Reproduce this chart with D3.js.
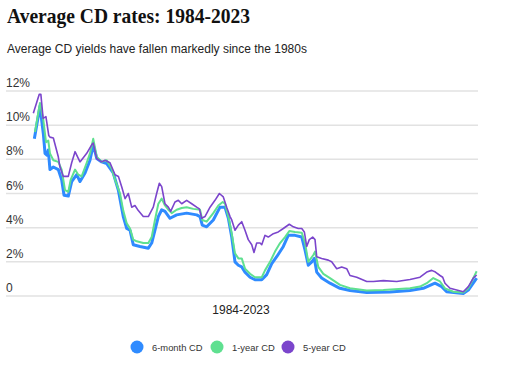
<!DOCTYPE html>
<html><head><meta charset="utf-8">
<script src="https://cdn.jsdelivr.net/npm/d3@7"></script>
<style>body{margin:0;background:#fff}svg{display:block}</style>
</head><body>
<svg id="c" width="512" height="369"></svg>
<script>
const title = "Average CD rates: 1984-2023";
const subtitle = "Average CD yields have fallen markedly since the 1980s";
const xLabel = "1984-2023";
const yTicks = [0, 2, 4, 6, 8, 10, 12];
const seriesNames = ["6-month CD", "1-year CD", "5-year CD"];
const seriesColors = ["#2f8bff", "#5fe090", "#7b45cc"];

const sixMonth = [[1984.12,9.2],[1984.62,11.1],[1984.92,9.5],[1985.07,8.35],[1985.22,8.25],[1985.36,8.55],[1985.51,7.4],[1985.81,7.55],[1986.25,7.4],[1986.55,6.8],[1986.76,5.9],[1987.14,5.85],[1987.44,6.7],[1987.89,7.1],[1988.18,6.7],[1988.63,7.2],[1989.07,7.95],[1989.36,8.85],[1989.67,8.05],[1990.11,7.85],[1990.56,7.75],[1991.14,7.2],[1991.59,6.2],[1992.03,4.65],[1992.34,3.95],[1992.63,3.85],[1992.92,3.0],[1993.52,2.9],[1994.26,2.8],[1994.56,3.1],[1994.85,3.85],[1995.15,4.65],[1995.45,5.05],[1995.74,4.95],[1996.19,4.55],[1996.78,4.75],[1997.67,4.85],[1998.56,4.75],[1998.86,4.65],[1999.06,4.15],[1999.45,4.05],[2000.04,4.45],[2000.64,5.2],[2001.08,5.2],[2001.38,4.55],[2001.68,3.45],[2001.97,2.0],[2002.27,1.8],[2002.57,1.7],[2002.86,1.4],[2003.31,1.1],[2003.75,0.95],[2004.35,0.95],[2004.79,1.25],[2005.24,1.9],[2005.68,2.3],[2006.27,2.9],[2006.71,3.55],[2007.31,3.55],[2007.91,3.45],[2008.2,2.7],[2008.49,1.8],[2008.8,2.0],[2009.03,2.2],[2009.24,1.4],[2009.68,1.05],[2010.42,0.75],[2011.31,0.45],[2012.2,0.32],[2013.69,0.2],[2015.76,0.23],[2017.54,0.32],[2018.72,0.45],[2019.76,0.75],[2020.36,0.55],[2020.8,0.25],[2022.28,0.15],[2022.73,0.35],[2023.47,1.05]];

const oneYear = [[1984.18,9.6],[1984.62,11.3],[1984.92,10.3],[1985.16,9.0],[1985.36,9.1],[1985.51,8.35],[1985.81,7.95],[1986.25,7.85],[1986.55,7.4],[1986.85,6.2],[1987.14,6.1],[1987.35,6.8],[1987.74,7.4],[1988.03,7.1],[1988.33,7.0],[1988.78,7.8],[1989.07,8.35],[1989.36,9.2],[1989.67,8.15],[1990.11,7.85],[1990.56,7.95],[1991.0,7.45],[1991.3,6.8],[1991.74,6.0],[1992.03,5.0],[1992.34,4.25],[1992.63,3.95],[1992.92,3.3],[1993.23,3.2],[1993.81,3.1],[1994.26,3.1],[1994.56,3.45],[1994.85,4.45],[1995.15,5.4],[1995.45,5.7],[1995.74,5.3],[1996.04,5.05],[1996.34,4.85],[1996.78,5.05],[1997.23,5.15],[1997.67,5.2],[1998.26,5.1],[1998.86,5.05],[1999.06,4.45],[1999.45,4.35],[2000.04,4.85],[2000.49,5.3],[2000.88,5.5],[2001.08,5.4],[2001.38,4.65],[2001.68,3.65],[2001.97,2.5],[2002.27,2.2],[2002.57,2.2],[2002.86,1.6],[2003.31,1.3],[2003.75,1.1],[2004.35,1.1],[2004.64,1.5],[2005.09,2.0],[2005.53,2.6],[2005.98,3.1],[2006.42,3.45],[2006.8,3.8],[2007.31,3.75],[2007.91,3.7],[2008.2,3.1],[2008.49,2.0],[2008.94,2.4],[2009.09,2.6],[2009.38,1.7],[2009.83,1.3],[2010.42,1.05],[2011.31,0.65],[2012.2,0.45],[2013.69,0.32],[2015.17,0.35],[2017.54,0.45],[2018.43,0.55],[2019.03,0.75],[2019.61,1.05],[2020.21,0.85],[2020.65,0.45],[2021.39,0.25],[2022.28,0.2],[2022.73,0.45],[2023.47,1.45]];

const fiveYear = [[1984.03,10.7],[1984.55,11.8],[1984.7,11.8],[1984.9,10.4],[1985.15,10.5],[1985.4,9.4],[1985.51,9.3],[1985.81,9.25],[1986.25,8.15],[1986.4,7.55],[1986.7,7.0],[1987.14,7.0],[1987.44,7.8],[1987.74,8.45],[1988.18,7.85],[1988.78,8.35],[1989.22,8.85],[1989.36,8.95],[1989.67,8.05],[1990.11,7.85],[1990.41,7.95],[1990.85,7.8],[1991.3,7.1],[1991.6,7.0],[1991.89,6.4],[1992.19,5.7],[1992.48,6.0],[1992.78,5.2],[1993.07,5.3],[1993.37,5.0],[1993.81,4.65],[1994.26,4.65],[1994.7,5.2],[1995.0,6.0],[1995.24,6.6],[1995.45,6.4],[1995.74,5.4],[1996.04,5.2],[1996.25,4.95],[1996.63,5.5],[1996.93,5.6],[1997.23,5.4],[1997.67,5.6],[1998.12,5.4],[1998.56,5.2],[1998.8,5.1],[1999.01,4.55],[1999.3,4.65],[1999.75,5.2],[2000.19,5.6],[2000.58,6.0],[2000.93,5.8],[2001.23,5.2],[2001.53,4.65],[2001.68,4.45],[2001.97,3.85],[2002.27,4.15],[2002.57,4.35],[2002.86,3.85],[2003.15,3.3],[2003.46,3.0],[2003.66,2.55],[2003.9,3.1],[2004.2,3.1],[2004.35,3.0],[2004.64,3.55],[2004.93,3.45],[2005.38,3.65],[2005.82,3.75],[2006.27,3.95],[2006.8,4.2],[2007.16,4.05],[2007.6,3.95],[2007.91,3.95],[2008.14,3.75],[2008.35,2.9],[2008.58,3.3],[2008.88,3.45],[2009.09,3.3],[2009.24,2.3],[2009.68,2.2],[2010.27,2.1],[2010.57,2.0],[2011.02,1.6],[2011.46,1.7],[2011.91,1.6],[2012.2,1.2],[2012.8,1.1],[2013.69,0.85],[2014.28,0.85],[2015.17,0.9],[2016.36,0.85],[2017.54,0.97],[2018.43,1.1],[2019.03,1.4],[2019.47,1.5],[2019.8,1.4],[2020.21,1.2],[2020.45,1.1],[2020.65,0.75],[2021.1,0.45],[2021.69,0.35],[2022.28,0.25],[2022.73,0.55],[2023.17,1.05],[2023.47,1.23]];

const svg = d3.select("#c");
const x = d3.scaleLinear().domain([1984, 2023.5]).range([33, 477]);
const y = d3.scaleLinear().domain([0, 12]).range([296, 91]);

// title
svg.append("text").attr("x", 7).attr("y", 23)
  .attr("font-family", "'Liberation Serif', serif").attr("font-weight", "bold")
  .attr("font-size", 21).attr("fill", "#111")
  .attr("textLength", 243).attr("lengthAdjust", "spacingAndGlyphs")
  .text(title);

svg.append("text").attr("x", 7).attr("y", 53)
  .attr("font-family", "'Liberation Sans', Arial, sans-serif")
  .attr("font-size", 12).attr("fill", "#222").text(subtitle);

// grid
const grid = svg.append("g");
grid.selectAll("line").data(yTicks).join("line")
  .attr("x1", 6).attr("x2", 478)
  .attr("y1", d => y(d)).attr("y2", d => y(d))
  .attr("stroke", "#e2e2e2").attr("stroke-width", 1.5);
grid.selectAll("text").data(yTicks).join("text")
  .attr("x", 6).attr("y", d => y(d) - 4)
  .attr("font-family", "'Liberation Sans', Arial, sans-serif")
  .attr("font-size", 12).attr("fill", "#333")
  .text(d => d === 0 ? "0" : d + "%");

svg.append("text").attr("x", 241).attr("y", 314).attr("text-anchor", "middle")
  .attr("font-family", "'Liberation Sans', Arial, sans-serif")
  .attr("font-size", 12).attr("fill", "#222").text(xLabel);

const line = d3.line().x(d => x(d[0])).y(d => y(d[1]));
const series = [sixMonth, oneYear, fiveYear];
const widths = [3, 2, 1.6];
series.forEach((s, i) => {
  svg.append("path").datum(s).attr("d", line)
    .attr("fill", "none").attr("stroke", seriesColors[i])
    .attr("stroke-width", widths[i]).attr("stroke-linejoin", "round");
});

// legend
const legX = [137, 217, 288];
const lg = svg.append("g");
seriesNames.forEach((n, i) => {
  lg.append("circle").attr("cx", legX[i]).attr("cy", 347).attr("r", 6.5).attr("fill", seriesColors[i]);
  lg.append("text").attr("x", legX[i] + 15).attr("y", 350.5)
    .attr("font-family", "'Liberation Sans', Arial, sans-serif")
    .attr("font-size", 9.4).attr("fill", "#333").text(n);
});
</script>
</body></html>
